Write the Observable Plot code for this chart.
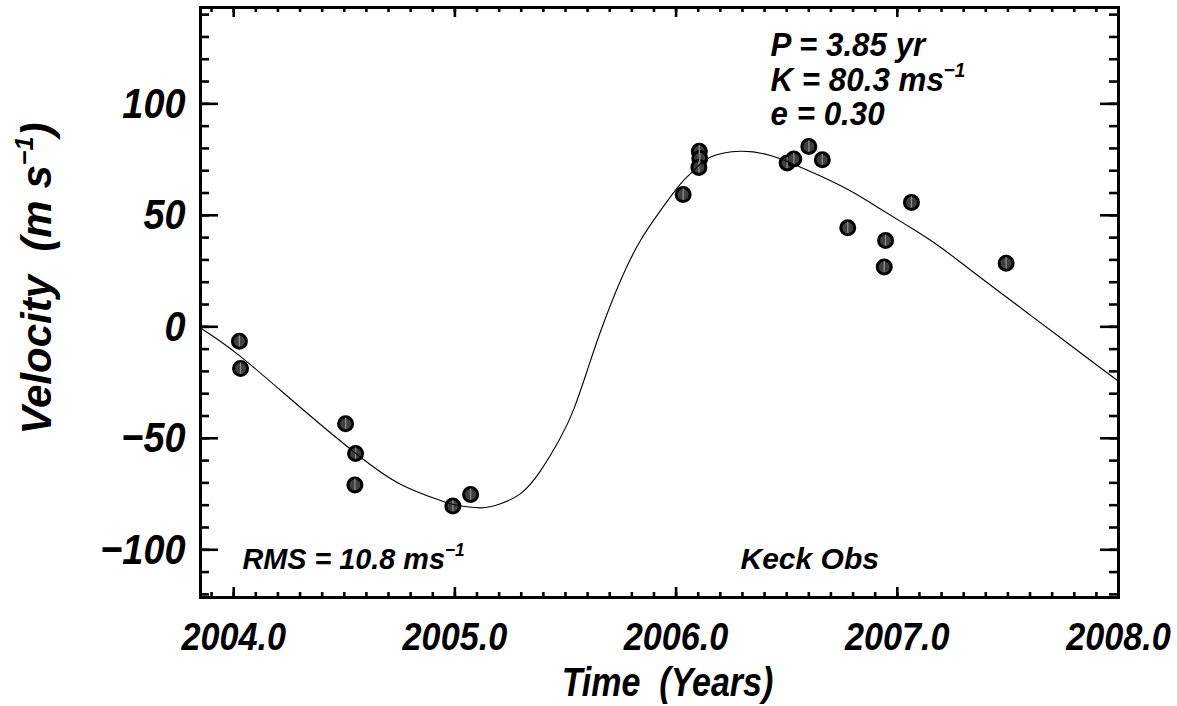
<!DOCTYPE html>
<html><head><meta charset="utf-8">
<script src="https://cdn.jsdelivr.net/npm/d3@7"></script>
<script src="https://cdn.jsdelivr.net/npm/@observablehq/plot@0.6"></script>
<style>
body{margin:0;background:#fff}
svg{font-family:"Liberation Sans",Arial,Helvetica,sans-serif;}
svg text{white-space:pre;}
</style>
</head><body><div id="chart"></div>
<script>
// Observations (year, radial velocity m/s, plotted error half-length)
const obsYear = [2004.026, 2004.031, 2004.506, 2004.551, 2004.548, 2004.991, 2005.071,
  2006.032, 2006.105, 2006.107, 2006.103, 2006.502, 2006.532, 2006.600, 2006.661,
  2006.776, 2006.947, 2006.941, 2007.064, 2007.492];
const obsVel = [-6.5, -18.7, -43.5, -56.8, -70.9, -80.4, -75.2,
  59.3, 78.7, 75.5, 71.5, 73.5, 75.3, 80.9, 74.9,
  44.4, 38.7, 26.8, 55.8, 28.5];
const obsErr = [2.5, 2.5, 2.5, 2.5, 2.5, 2.5, 2.5, 2.5, 2.5, 2.5,
  2.5, 2.5, 2.5, 2.5, 2.5, 2.5, 2.5, 2.5, 2.5, 2.5];

// Keplerian fit curve
const fitYear = [2003.85, 2004.026, 2004.302, 2004.551, 2004.754, 2004.935, 2004.994, 2005.116,
  2005.206, 2005.297, 2005.387, 2005.477, 2005.538, 2005.598, 2005.658, 2005.749, 2005.839,
  2005.930, 2006.020, 2006.080, 2006.156, 2006.291, 2006.427, 2006.563, 2006.653, 2006.789,
  2006.924, 2007.060, 2007.195, 2007.331, 2007.467, 2007.602, 2007.738, 2007.874, 2008.0];
const fitVel = [-0.5, -12.9, -36.2, -56.7, -70.6, -77.9, -79.7, -81.2,
  -79.4, -74.8, -64.6, -49.8, -36.8, -19.7, -2.2, 20.8, 38.7,
  52.2, 64.1, 70.1, 76.1, 78.7, 76.8, 71.6, 67.6, 60.9,
  52.8, 44.5, 35.7, 25.5, 15.3, 5.2, -4.9, -15.1, -24.4];

const xMajorTicks = [2004, 2005, 2006, 2007, 2008];
const yMajorTicks = [-100, -50, 0, 50, 100];
const xMinorTicks = d3.range(39, 80).map(d => d / 10 + 2000);
const yMinorTicks = d3.range(-12, 15).map(d => d * 10);
const xDomain = [2003.85, 2008.0];
const yDomain = [-121.4, 143.2];

const paramLines = ["P = 3.85 yr", "K = 80.3 ms^−1", "e = 0.30"];
const rmsLabel = "RMS = 10.8 ms^−1";
const obsLabel = "Keck Obs";
const xTitle = "Time  (Years)";
const yTitle = "Velocity  (m s^−1^)";

const obs = obsYear.map((x, i) => ({x, v: obsVel[i], e: obsErr[i]}));
const fit = fitYear.map((x, i) => ({x, v: fitVel[i]}));

const W = 1177, H = 706;
const mL = 200, mR = 59, mT = 7, mB = 109;
const kx = (xDomain[1] - xDomain[0]) / (W - mL - mR); // years per px
const ky = (yDomain[1] - yDomain[0]) / (H - mT - mB); // m/s per px

const txt = {fontWeight: "bold", fontStyle: "italic", fill: "#000"};
const note = (s, dx, dy, fs) => Plot.text([s], {text: d => d, frameAnchor: "top-left", textAnchor: "start",
  lineAnchor: "bottom", dx, dy, fontSize: fs, ...txt});

const svg = Plot.plot({
  width: W, height: H,
  marginLeft: mL, marginRight: mR, marginTop: mT, marginBottom: mB,
  x: {domain: xDomain},
  y: {domain: yDomain},
  marks: [
    // inward ticks
    Plot.ruleX(xMajorTicks, {x: d => d, y1: yDomain[0], y2: yDomain[0] + 10 * ky, stroke: "#000", strokeWidth: 2.6}),
    Plot.ruleX(xMajorTicks, {x: d => d, y1: yDomain[1] - 10 * ky, y2: yDomain[1], stroke: "#000", strokeWidth: 2.6}),
    Plot.ruleX(xMinorTicks, {x: d => d, y1: yDomain[0], y2: yDomain[0] + 5 * ky, stroke: "#000", strokeWidth: 2.6}),
    Plot.ruleX(xMinorTicks, {x: d => d, y1: yDomain[1] - 5 * ky, y2: yDomain[1], stroke: "#000", strokeWidth: 2.6}),
    Plot.ruleY(yMajorTicks, {y: d => d, x1: xDomain[0], x2: xDomain[0] + 18 * kx, stroke: "#000", strokeWidth: 2.6}),
    Plot.ruleY(yMajorTicks, {y: d => d, x1: xDomain[1] - 18 * kx, x2: xDomain[1], stroke: "#000", strokeWidth: 2.6}),
    Plot.ruleY(yMinorTicks, {y: d => d, x1: xDomain[0], x2: xDomain[0] + 9 * kx, stroke: "#000", strokeWidth: 2.6}),
    Plot.ruleY(yMinorTicks, {y: d => d, x1: xDomain[1] - 9 * kx, x2: xDomain[1], stroke: "#000", strokeWidth: 2.6}),
    // data
    Plot.dot(obs, {x: "x", y: "v", r: 7, fill: "#404040", stroke: "#000", strokeWidth: 3}),
    Plot.ruleX(obs, {x: "x", y1: d => d.v - d.e, y2: d => d.v + d.e, stroke: "#8c8c8c", strokeWidth: 1.3}),
    Plot.line(fit, {x: "x", y: "v", curve: "natural", stroke: "#000", strokeWidth: 1.1}),
    Plot.frame({stroke: "#000", strokeWidth: 3}),
    // axes
    Plot.axisX(xMajorTicks, {anchor: "bottom", tickSize: 0, tickPadding: 26, tickFormat: d => d.toFixed(1),
      fontSize: 38, ...txt, label: null}),
    Plot.axisY(yMajorTicks, {anchor: "left", tickSize: 0, tickPadding: 15,
      fontSize: 43, ...txt, label: null}),
    // titles
    Plot.text([xTitle], {text: d => d, frameAnchor: "bottom", textAnchor: "middle", lineAnchor: "bottom",
      dx: 8, dy: 98, fontSize: 40, ...txt}),
    Plot.text([yTitle], {text: d => d, frameAnchor: "left", textAnchor: "middle", lineAnchor: "bottom",
      rotate: -90, dx: -150, dy: -24, fontSize: 42, ...txt}),
    // annotations
    note(paramLines[0], 570, 48, 33),
    note(paramLines[1], 570, 83.5, 33),
    note(paramLines[2], 570, 117, 33),
    note(rmsLabel, 42, 561, 30),
    note(obsLabel, 540, 561, 30)
  ]
});

const root = d3.select(svg);
const squeezeBy = new Map([[xTitle, 0.85], [rmsLabel, 0.96]]);
paramLines.forEach(s => squeezeBy.set(s, 0.95));
function addScale(node, s) {
  const t = node.getAttribute("transform") || "";
  node.setAttribute("transform", t + ` scale(${s},1)`);
}
root.selectAll('g[aria-label="x-axis tick label"] text').each(function() { addScale(this, 0.9); });
root.selectAll('g[aria-label="y-axis tick label"] text').each(function() { addScale(this, 0.88); });
root.selectAll("text").each(function() {
  const s = this.textContent;
  if (squeezeBy.has(s)) addScale(this, squeezeBy.get(s));
  if (!s.includes("^")) return;
  const parts = s.split("^");
  const el = d3.select(this);
  const fs = parseFloat(this.getAttribute("font-size")) ||
    parseFloat(this.parentNode.getAttribute("font-size")) || 30;
  const sup = fs * 0.6, shift = fs * 0.42;
  el.text(null);
  el.append("tspan").text(parts[0]);
  el.append("tspan").attr("font-size", sup).attr("dy", -shift).text(parts[1]);
  if (parts[2] !== undefined) el.append("tspan").attr("dy", shift).text(parts[2]);
});
document.getElementById("chart").appendChild(svg);
</script>
</body></html>
